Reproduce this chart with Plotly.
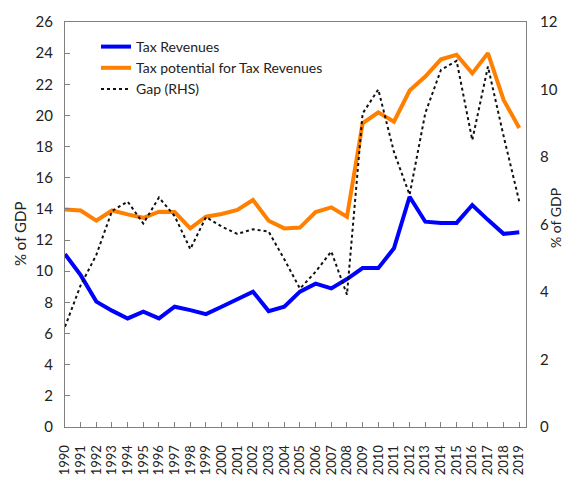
import plotly.graph_objects as go

years = list(range(1990, 2020))
tax_revenues = [11.1, 9.75, 8.05, 7.47, 6.97, 7.4, 6.97, 7.72, 7.5, 7.25,
                7.72, 8.2, 8.69, 7.44, 7.72, 8.69, 9.2, 8.9, 9.5, 10.2,
                10.2, 11.47, 14.78, 13.18, 13.1, 13.1, 14.25, 13.3, 12.4, 12.5]
tax_potential = [13.97, 13.9, 13.25, 13.9, 13.65, 13.43, 13.82, 13.8, 12.75, 13.5,
                 13.67, 13.93, 14.57, 13.24, 12.75, 12.8, 13.8, 14.1, 13.5, 19.5,
                 20.2, 19.6, 21.6, 22.5, 23.6, 23.9, 22.7, 24.0, 21.0, 19.2]
gap_rhs = [2.97, 4.2, 5.1, 6.4, 6.68, 6.03, 6.8, 6.25, 5.27, 6.22,
           5.94, 5.72, 5.86, 5.79, 4.97, 4.1, 4.6, 5.2, 3.92, 9.29,
           10.0, 8.15, 6.88, 9.3, 10.58, 10.85, 8.5, 10.68, 8.62, 6.68]

left_ticks = list(range(0, 27, 2))
right_ticks = list(range(0, 13, 2))
axis_title = "% of GDP"

FONT = "Lato"
TXT = "#222222"

fig = go.Figure()
fig.add_trace(go.Scatter(x=years, y=tax_revenues, name="Tax Revenues",
                         mode="lines", line=dict(color="#0000FF", width=4)))
fig.add_trace(go.Scatter(x=years, y=tax_potential, name="Tax potential for Tax Revenues",
                         mode="lines", line=dict(color="#FF8000", width=4)))
fig.add_trace(go.Scatter(x=years, y=gap_rhs, name="Gap (RHS)", yaxis="y2",
                         mode="lines", line=dict(color="#111111", width=2, dash="dot")))

axis_line = "#808080"
L, R, T, B = 65, 40, 22, 54
W, H = 566, 481
pw, ph = W - L - R, H - T - B


def px2paper(px, py):
    return (px - L) / pw, (H - B - py) / ph


lx, ly = px2paper(20, 234)
rx, ry = px2paper(555, 218)
legx, legy = px2paper(96, 31)

fig.update_layout(
    width=W, height=H,
    margin=dict(l=L, r=R, t=T, b=B, autoexpand=False),
    plot_bgcolor="white", paper_bgcolor="white",
    font=dict(family=FONT, size=15, color=TXT),
    showlegend=True,
    legend=dict(x=legx, y=legy, xanchor="left", yanchor="top",
                bgcolor="rgba(0,0,0,0)", font=dict(size=14, color=TXT),
                tracegroupgap=0, itemwidth=30),
    xaxis=dict(range=[1990, 2019.43], tickmode="array", tickvals=years,
               ticktext=[str(y) for y in years], tickangle=-90,
               ticks="inside", ticklen=5, tickcolor=axis_line,
               showline=True, linecolor=axis_line, linewidth=1, mirror=True,
               showgrid=False, zeroline=False, ticklabelstandoff=12, automargin=False,
               tickfont=dict(size=13, color=TXT)),
    yaxis=dict(range=[0, 26], tickvals=left_ticks, ticks="inside", ticklen=5,
               tickcolor=axis_line, showline=True, linecolor=axis_line, linewidth=1,
               mirror=True, showgrid=False, zeroline=False, ticklabelstandoff=8,
               automargin=False, tickfont=dict(size=15)),
    yaxis2=dict(range=[0, 12], tickvals=right_ticks, overlaying="y", side="right",
                ticks="", showline=False, showgrid=False, zeroline=False,
                ticklabelstandoff=13, automargin=False, tickfont=dict(size=15)),
    annotations=[
        dict(text=axis_title, xref="paper", yref="paper", x=lx, y=ly,
             textangle=-90, showarrow=False, font=dict(size=15, color=TXT),
             xanchor="center", yanchor="middle"),
        dict(text=axis_title, xref="paper", yref="paper", x=rx, y=ry,
             textangle=-90, showarrow=False, font=dict(size=14, color=TXT),
             xanchor="center", yanchor="middle"),
    ],
)

fig.write_html("out.html",
               config={"displayModeBar": False},
               post_script="document.body.style.margin='0px';document.body.style.overflow='hidden';")
